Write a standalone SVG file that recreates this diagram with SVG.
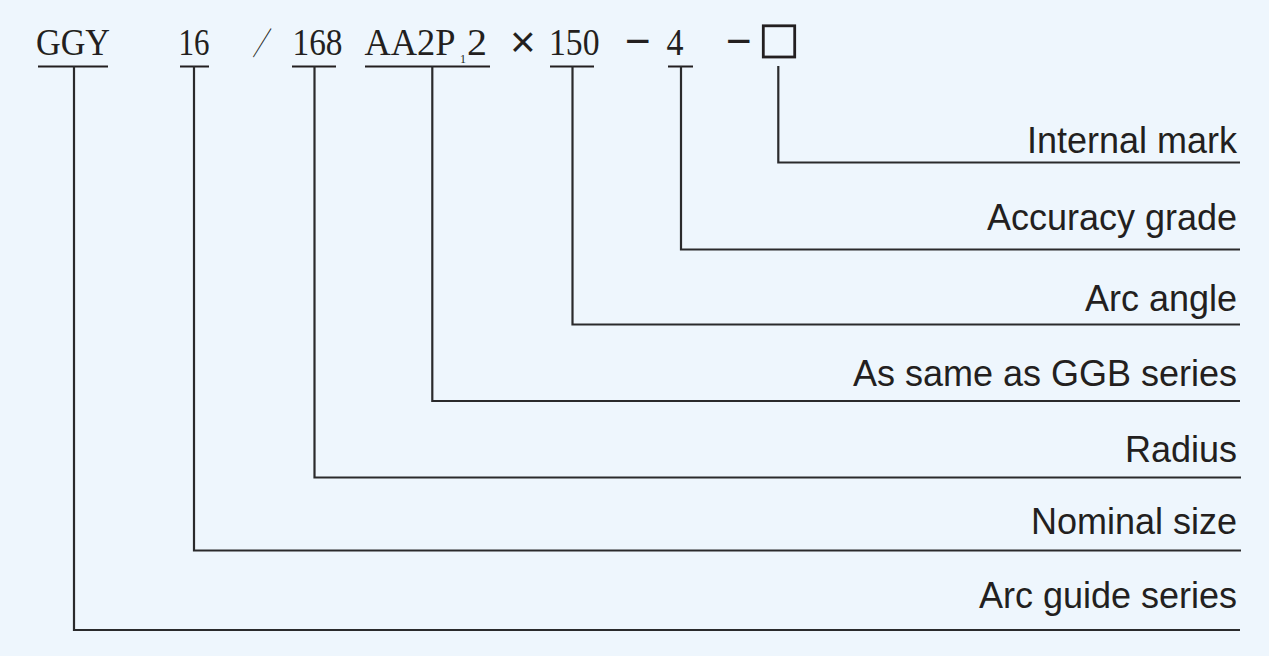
<svg xmlns="http://www.w3.org/2000/svg" width="1269" height="656" viewBox="0 0 1269 656">
<style>
.code{font-family:"Liberation Serif","Times New Roman",serif;font-size:37px;fill:#231f20}
.sym{font-family:"Liberation Sans",Arial,sans-serif;fill:#231f20}
.sub{font-family:"Liberation Serif","Times New Roman",serif;font-size:12px;fill:#231f20}
.lbl{font-family:"Liberation Sans",Arial,sans-serif;font-size:36px;fill:#231f20;text-anchor:end}
.ul{stroke:#231f20;stroke-width:2;fill:none}
.conn{stroke:#2a2a2c;stroke-width:2.2;fill:none}
</style>
<rect x="0" y="0" width="1269" height="656" fill="#eef6fd"/>
<g id="code-ggy">
<text class="code" x="36" y="55" textLength="74" lengthAdjust="spacingAndGlyphs">GGY</text>
<line class="ul" x1="38" y1="66.5" x2="108" y2="66.5"/>
</g>
<g id="code-16">
<text class="code" x="178.5" y="55" textLength="31" lengthAdjust="spacingAndGlyphs">16</text>
<line class="ul" x1="180" y1="66.5" x2="209" y2="66.5"/>
</g>
<g id="code-slash" transform="translate(262.5,0) scale(0.62,1) translate(-262.5,0)">
<text x="246" y="55" font-family="'Noto Sans CJK SC','Noto Sans',sans-serif" font-size="32" font-weight="300" fill="#231f20">／</text>
</g>
<g id="code-168">
<text class="code" x="292.5" y="55" textLength="50" lengthAdjust="spacingAndGlyphs">168</text>
<line class="ul" x1="292" y1="66.5" x2="336" y2="66.5"/>
</g>
<g id="code-aa2p12">
<text class="code" x="364.5" y="55" textLength="91" lengthAdjust="spacingAndGlyphs">AA2P</text>
<text class="sub" x="460" y="63">1</text>
<text class="code" x="467" y="55" textLength="20" lengthAdjust="spacingAndGlyphs">2</text>
<line class="ul" x1="365" y1="66.5" x2="490" y2="66.5"/>
</g>
<g id="code-times">
<text class="sym" x="510" y="57" font-size="44">×</text>
</g>
<g id="code-150">
<text class="code" x="549" y="55" textLength="50.5" lengthAdjust="spacingAndGlyphs">150</text>
<line class="ul" x1="550" y1="66.5" x2="594" y2="66.5"/>
</g>
<g id="code-dash1">
<text class="sym" x="625" y="56" font-size="44">−</text>
</g>
<g id="code-4">
<text class="code" x="666.5" y="55" textLength="17" lengthAdjust="spacingAndGlyphs">4</text>
<line class="ul" x1="668" y1="66.5" x2="693" y2="66.5"/>
</g>
<g id="code-dash2">
<text class="sym" x="726" y="56" font-size="44">−</text>
</g>
<g id="code-box">
<rect x="763.3" y="25.8" width="31.4" height="31.2" fill="none" stroke="#231f20" stroke-width="2.8"/>
</g>
<g id="label-internal-mark"><text class="lbl" x="1237" y="153">Internal mark</text></g>
<g id="label-accuracy-grade"><text class="lbl" x="1237" y="230">Accuracy grade</text></g>
<g id="label-arc-angle"><text class="lbl" x="1237" y="311">Arc angle</text></g>
<g id="label-ggb"><text class="lbl" x="1237" y="386">As same as GGB series</text></g>
<g id="label-radius"><text class="lbl" x="1237" y="462">Radius</text></g>
<g id="label-nominal-size"><text class="lbl" x="1237" y="534">Nominal size</text></g>
<g id="label-arc-guide-series"><text class="lbl" x="1237" y="608">Arc guide series</text></g>
<g id="connectors">
<polyline class="conn" points="778.3,66 778.3,162.5 1240,162.5"/>
<polyline class="conn" points="681,66 681,249.5 1240,249.5"/>
<polyline class="conn" points="572.5,66 572.5,324.5 1240,324.5"/>
<polyline class="conn" points="432.3,66 432.3,401 1240,401"/>
<polyline class="conn" points="314.5,66 314.5,477.5 1241,477.5"/>
<polyline class="conn" points="194,66 194,550.5 1241,550.5"/>
<polyline class="conn" points="74,66 74,630 1240,630"/>
</g>
</svg>
